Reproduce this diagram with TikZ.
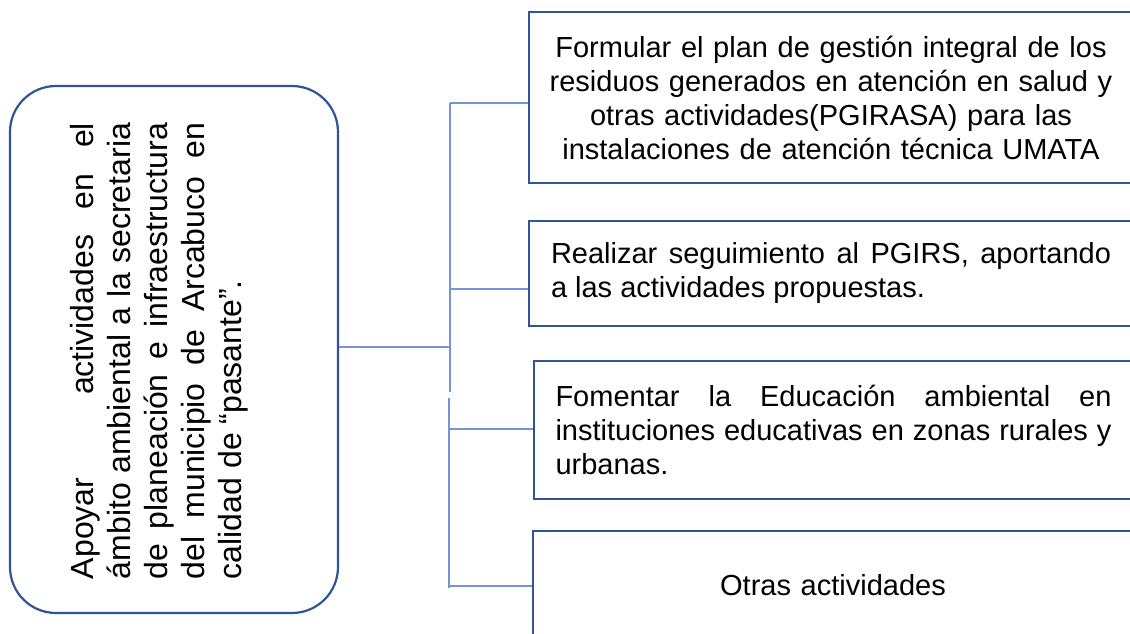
\documentclass[tikz,border=0pt]{standalone}
\usepackage{fontspec}
\setmainfont{Liberation Sans}
\usetikzlibrary{positioning}
\definecolor{boxblue}{HTML}{2F5597}
\definecolor{lineblue}{HTML}{7396D2}

\begin{document}
\begin{tikzpicture}[x=1pt,y=-1pt,
  taskbox/.style={draw=boxblue, line width=2.2pt, inner sep=0pt, font=\fontsize{29}{34}\selectfont},
  conn/.style={lineblue, line width=1.3pt}]
\useasboundingbox (0,0) rectangle (1130,634);
\clip (0,0) rectangle (1130,634);
% main box, text turned upwards
\node[draw=boxblue, line width=2.2pt, rounded corners=46pt, minimum width=328pt, minimum height=527pt, inner sep=0pt] (apoyar) at (174,349.5) {};
\node[rotate=90, inner sep=0pt, text width=456pt, align=justify, font=\fontsize{32}{37}\selectfont] (apoyartxt) at (159,351) {Apoyar\hspace{57pt} actividades en el\linebreak ámbito ambiental a la secretaria\linebreak de planeación e infraestructura\linebreak del municipio de Arcabuco en\linebreak calidad de “pasante”.};
% the four tasks
\node[taskbox, minimum width=604pt, minimum height=171pt, text width=600pt, align=center] (formular) at (831,97.5) {Formular el plan de gestión integral de los\\ residuos generados en atención en salud y\\ otras actividades(PGIRASA) para las\\ instalaciones de atención técnica UMATA};
\node[taskbox, minimum width=604pt, minimum height=105pt, text width=560pt, align=justify] (realizar) at (831,273.5) {Realizar seguimiento al PGIRS, aportando\linebreak a las actividades propuestas.};
\node[taskbox, minimum width=599pt, minimum height=138pt, text width=556pt, align=justify] (fomentar) at (833.5,430) {Fomentar la Educación ambiental en\linebreak instituciones educativas en zonas rurales y\linebreak urbanas.};
\node[taskbox, minimum width=600pt, minimum height=109pt, text width=560pt, align=center] (otras) at (833,585.5) {Otras actividades};
% connectors
\coordinate (hub) at (450,347);
\coordinate (j1) at (450,103);
\coordinate (j2) at (450,289);
\coordinate (gapa) at (450,392);
\coordinate (gapb) at (449,398);
\coordinate (j3) at (449,429);
\coordinate (j4) at (449,588);
\draw[conn] (hub -| apoyar.east) -- (hub);
\draw[conn] (j1) -- (gapa);
\draw[conn] (gapb) -- (j4);
\draw[conn] (j1) -- (j1 -| formular.west);
\draw[conn] (j2) -- (j2 -| realizar.west);
\draw[conn] (j3) -- (j3 -| fomentar.west);
\draw[conn] (449,586) -- (otras.west |- 449,586);
\end{tikzpicture}
\end{document}
